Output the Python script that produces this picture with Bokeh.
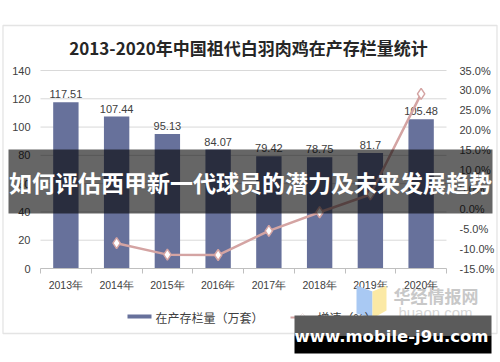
from bokeh.plotting import figure
from bokeh.models import (Range1d, LinearAxis, FixedTicker,
                          SingleIntervalTicker, PrintfTickFormatter, Label,
                          BoxAnnotation, PolyAnnotation)
from bokeh.core.properties import value
from bokeh.embed import file_html
from bokeh.resources import INLINE

# ---- data ----
years = ["2013年", "2014年", "2015年", "2016年", "2017年", "2018年", "2019年", "2020年"]
stock = [117.51, 107.44, 95.13, 84.07, 79.42, 78.75, 81.7, 105.48]
stock_labels = ["117.51", "107.44", "95.13", "84.07", "79.42", "78.75", "81.7", "105.48"]
growth_years = ["2014年", "2015年", "2016年", "2017年", "2018年", "2019年", "2020年"]
growth = [-8.6, -11.5, -11.6, -5.5, -0.8, 3.7, 29.1]
left_ticks = [0, 20, 40, 60, 80, 100, 120, 140]
pct_min, pct_max = -15, 35

title_text = "2013-2020年中国祖代白羽肉鸡在产存栏量统计"
legend_bar = "在产存栏量（万套）"
legend_line = "增速（%）"
banner_text = "如何评估西甲新一代球员的潜力及未来发展趋势"
site_text = "www.mobile-j9u.com"
logo_cn = "华经情报网"
logo_en = "huaon.com"

# ---- layout constants (pixels within the canvas) ----
FW, FH = 500, 362
PL, PR = 40, 446        # plot area left / right
PT, PB = 70, 268        # plot area top / bottom (from canvas top)

BAR = "#67719b"
LINE = "#d4a4a3"
TXT = "#404040"
CJK = "Noto Sans CJK SC"

n = len(years)
v_min, v_max = left_ticks[0], left_ticks[-1]
kx = (PR - PL) / n
ky = (PB - PT) / (v_max - v_min)
kp = (PB - PT) / (pct_max - pct_min)

xc = [i + 0.5 for i in range(n)]
xg = [years.index(y) + 0.5 for y in growth_years]

p = figure(width=FW, height=FH,
           x_range=Range1d(-PL / kx, n + (FW - PR) / kx),
           y_range=Range1d(v_min - (FH - PB) / ky, v_max + PT / ky),
           output_backend="svg", toolbar_location=None,
           min_border=0, min_border_left=0, min_border_right=0,
           min_border_top=0, min_border_bottom=0,
           x_axis_location=None, y_axis_location=None)
p.extra_y_ranges = {"pct": Range1d(pct_min - (FH - PB) / kp, pct_max + PT / kp)}
p.outline_line_color = None
p.background_fill_color = "white"
p.border_fill_color = "white"
p.xgrid.visible = False
p.ygrid.visible = False

# horizontal grid lines within the plot area
p.segment(x0=[0] * (len(left_ticks) - 1), x1=[n] * (len(left_ticks) - 1),
          y0=left_ticks[1:], y1=left_ticks[1:], line_color="#d9d9d9", line_width=1)

# ---- axes (fixed inside the frame) ----
ax_l = LinearAxis(fixed_location=0, ticker=FixedTicker(ticks=left_ticks), bounds=(v_min, v_max),
                  axis_line_color=None, major_tick_line_color=None, minor_tick_line_color=None,
                  major_tick_out=0, major_tick_in=0, major_label_standoff=10,
                  major_label_text_font_size="11px", major_label_text_color=TXT,
                  major_label_text_font="Liberation Sans")
p.add_layout(ax_l, "left")

ax_r = LinearAxis(y_range_name="pct", fixed_location=n, ticker=SingleIntervalTicker(interval=5),
                  bounds=(pct_min, pct_max),
                  formatter=PrintfTickFormatter(format="%.1f%%"),
                  axis_line_color=None, major_tick_line_color=None, minor_tick_line_color=None,
                  major_tick_out=0, major_tick_in=0, major_label_standoff=9,
                  major_label_text_font_size="11px", major_label_text_color=TXT,
                  major_label_text_font="Liberation Sans")
p.add_layout(ax_r, "right")

ax_b = LinearAxis(fixed_location=v_min, bounds=(0, n),
                  ticker=FixedTicker(ticks=xc, minor_ticks=list(range(n + 1))),
                  major_label_overrides={x: y for x, y in zip(xc, years)},
                  axis_line_color="#bfbfbf", major_tick_line_color=None,
                  minor_tick_line_color="#bfbfbf", minor_tick_out=5, minor_tick_in=0,
                  major_tick_out=0, major_tick_in=0, major_label_standoff=5,
                  major_label_text_font_size="10.5px", major_label_text_color=TXT,
                  major_label_text_font="Liberation Sans")
p.add_layout(ax_b, "below")

# bars
p.vbar(x=xc, top=stock, width=0.5, fill_color=BAR, line_color=None)
p.text(x=xc, y=stock, text=stock_labels, text_align="center", text_baseline="bottom",
       y_offset=-4, text_font_size="11px", text_color=TXT, text_font=value("Liberation Sans"))

# growth line
p.line(x=xg, y=growth, y_range_name="pct", line_color=LINE, line_width=2.5)
p.scatter(x=xg, y=growth, y_range_name="pct", marker="diamond", size=11,
          fill_color="white", line_color=LINE, line_width=1.5)

# ---- decorations (screen units: x from canvas left, y up from canvas bottom) ----
def abox(l, r, b, t, **kw):
    p.add_layout(BoxAnnotation(left=l, right=r, bottom=b, top=t,
                               left_units="screen", right_units="screen",
                               bottom_units="screen", top_units="screen", **kw))

def lab(x, y, text, **kw):
    p.add_layout(Label(x=x, y=y, x_units="screen", y_units="screen", text=text, **kw))

def poly(xs, ys, **kw):
    p.add_layout(PolyAnnotation(xs=xs, ys=ys, xs_units="screen", ys_units="screen", **kw))

# outer border
abox(2.5, 496.5, 29, 337, fill_color=None, fill_alpha=0, line_color="#a6a6a6", line_width=1.3)

# title
lab(248, 315, title_text, text_align="center", text_baseline="middle",
    text_font_size="17px", text_font_style="bold", text_color="#262626", text_font=CJK)

# logo watermark
poly([356, 372, 372, 356], [77, 71, 44, 49], fill_color="#a9c9f3", fill_alpha=1, line_color=None)
poly([372, 386, 386, 372], [71, 77, 52, 44], fill_color="#fbe9a5", fill_alpha=1, line_color=None)
lab(393, 67, logo_cn, text_align="left", text_baseline="middle",
    text_font_size="17px", text_font_style="bold", text_color="#c8c8c8", text_font=CJK)
lab(435, 50, logo_en, text_align="center", text_baseline="middle",
    text_font_size="15px", text_color="#d6d6d6", text_font="Liberation Sans")

# legend
abox(127, 151, 44, 48, fill_color=BAR, fill_alpha=1, line_color=None)
lab(155, 45, legend_bar, text_align="left", text_baseline="middle",
    text_font_size="12px", text_color=TXT, text_font=CJK)
abox(290, 315, 44, 46, fill_color=LINE, fill_alpha=1, line_color=None)
poly([302, 306, 302, 298], [49, 45, 41, 45], fill_color="white", fill_alpha=1,
     line_color=LINE, line_width=1)
lab(317, 45, legend_line, text_align="left", text_baseline="middle",
    text_font_size="12px", text_color=TXT, text_font=CJK)

# banner overlay
abox(8, 492, 149, 213, fill_color="black", fill_alpha=0.6, line_color=None)
lab(250, 181, banner_text, text_align="center", text_baseline="middle",
    text_font_size="23px", text_font_style="bold", text_color="white", text_font=CJK)

# site watermark box
abox(294, 491, 27, 47, fill_color="#5b5b5b", fill_alpha=1, line_color=None)
abox(294, 491, 9, 27, fill_color="black", fill_alpha=1, line_color=None)
lab(391, 26, site_text, text_align="center", text_baseline="middle",
    text_font_size="16.5px", text_font_style="bold", text_color="white",
    text_font="DejaVu Sans")

open("out.html", "w").write(file_html(p, INLINE))
